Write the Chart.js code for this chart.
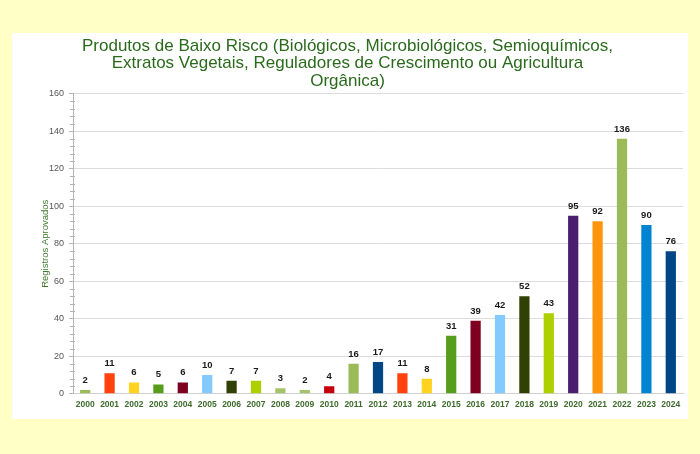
<!DOCTYPE html>
<html><head><meta charset="utf-8">
<script src="https://cdn.jsdelivr.net/npm/chart.js@4"></script>
<style>
html,body{margin:0;padding:0;background:#FFFFC6;width:700px;height:454px;overflow:hidden;}
#panel{position:absolute;left:12px;top:33px;width:676px;height:386px;background:#fff;}
canvas{display:block;}
</style></head><body>
<div id="panel"><canvas id="c" width="676" height="386"></canvas></div>
<script>
const years = ['2000','2001','2002','2003','2004','2005','2006','2007','2008','2009','2010','2011','2012','2013','2014','2015','2016','2017','2018','2019','2020','2021','2022','2023','2024'];
const registros = [2,11,6,5,6,10,7,7,3,2,4,16,17,11,8,31,39,42,52,43,95,92,136,90,76];
const barColors = ['#9BBB59','#FF420E','#FFD320','#579D1C','#7E0021','#83CAFF','#314004','#AECF00','#A5C46A','#A5C46A','#C5000B','#9BBB59','#004586','#FF420E','#FFD320','#579D1C','#7E0021','#83CAFF','#314004','#AECF00','#4B1F6F','#FF950E','#9BBB59','#0084D1','#004586'];
const titleLines = ['Produtos de Baixo Risco (Biológicos, Microbiológicos, Semioquímicos,','Extratos Vegetais, Reguladores de Crescimento ou Agricultura','Orgânica)'];
const yTitle = 'Registros Aprovados';

const valueLabels = {
  id:'valueLabels',
  afterDatasetsDraw(chart){
    const ctx = chart.ctx;
    const meta = chart.getDatasetMeta(0);
    ctx.save();
    ctx.font = 'bold 9.5px "Liberation Sans", Arial, sans-serif';
    ctx.fillStyle = '#1a1a1a';
    ctx.textAlign = 'center';
    ctx.textBaseline = 'bottom';
    meta.data.forEach((bar,i)=>{
      ctx.fillText(String(registros[i]), bar.x, bar.y - 5);
    });
    ctx.restore();
  }
};
const minorTicks = {
  id:'minorTicks',
  afterDraw(chart){
    const y = chart.scales.y, ctx = chart.ctx;
    const x0 = chart.chartArea.left;
    ctx.save();
    ctx.strokeStyle = '#b3b3b3';
    ctx.lineWidth = 1;
    for(let v=0; v<=160; v+=4){
      if(v%20===0) continue;
      const py = Math.round(y.getPixelForValue(v))+0.5;
      ctx.beginPath(); ctx.moveTo(x0-3,py); ctx.lineTo(x0+2,py); ctx.stroke();
    }
    ctx.restore();
  }
};

new Chart(document.getElementById('c'),{
  type:'bar',
  data:{labels:years,datasets:[{data:registros,backgroundColor:barColors,barPercentage:0.42,categoryPercentage:1}]},
  options:{
    responsive:false,animation:false,
    layout:{padding:{left:0,right:5,top:0,bottom:0}},
    plugins:{
      legend:{display:false},tooltip:{enabled:false},
      title:{display:true,text:titleLines,color:'#2A6A1C',
        font:{family:'"Liberation Sans", Arial, sans-serif',size:17,weight:'normal',lineHeight:1.05},
        padding:{top:4,bottom:3.2}}
    },
    scales:{
      x:{
        grid:{display:false,drawTicks:false},
        border:{color:'#d0d0d0'},
        ticks:{color:'#3D6B2C',padding:6,maxRotation:0,minRotation:0,autoSkip:false,font:{family:'"Liberation Sans", Arial, sans-serif',size:8.5,weight:'bold'}},
        afterFit(s){s.height=25.25;}
      },
      y:{
        min:0,max:160,
        ticks:{stepSize:20,color:'#555',padding:5,font:{family:'"Liberation Sans", Arial, sans-serif',size:9}},
        grid:{color:'#dcdcdc',tickLength:4,tickColor:'#b3b3b3'},
        border:{color:'#b3b3b3'},
        title:{display:true,text:yTitle,color:'#3F7A2A',padding:{top:28,bottom:2},font:{family:'"Liberation Sans", Arial, sans-serif',size:9.5}},
        afterFit(s){s.width=61;}
      }
    }
  },
  plugins:[valueLabels,minorTicks]
});
</script>
</body></html>
